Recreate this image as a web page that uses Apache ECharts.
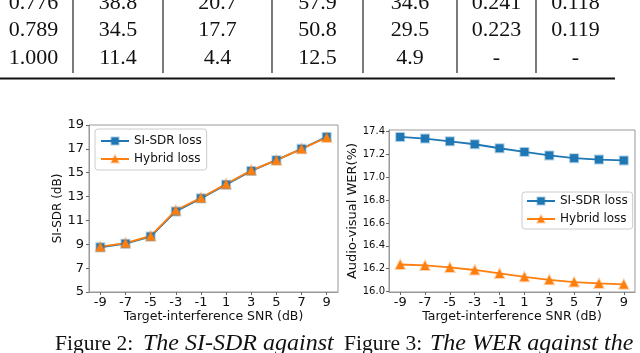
<!DOCTYPE html>
<html>
<head>
<meta charset="utf-8">
<script src="https://cdn.jsdelivr.net/npm/echarts@6/dist/echarts.min.js"></script>
<style>
  html, body { margin: 0; padding: 0; background: #fff; }
  #chart { width: 640px; height: 353px; }
</style>
</head>
<body>
<div id="chart"></div>
<script>
// x 轴：目标干扰信噪比
const snr = [-9, -7, -5, -3, -1, 1, 3, 5, 7, 9]
// Figure 2: SI-SDR (dB)
const sdrSiSdrLoss = [8.75, 9.05, 9.65, 11.75, 12.85, 14.0, 15.15, 16.05, 17.0, 18.0]
const sdrHybridLoss = [8.8, 9.1, 9.7, 11.85, 12.9, 14.05, 15.2, 16.05, 17.0, 17.95]
// Figure 3: Audio-visual WER (%)
const werSiSdrLoss = [17.354, 17.34, 17.316, 17.29, 17.255, 17.223, 17.192, 17.168, 17.156, 17.148]
const werHybridLoss = [16.236, 16.228, 16.21, 16.188, 16.158, 16.128, 16.102, 16.082, 16.07, 16.062]
const sdrTicks = [5, 7, 9, 11, 13, 15, 17, 19]
const werTicks = [16.0, 16.2, 16.4, 16.6, 16.8, 17.0, 17.2, 17.4]
// 上方表格（裁剪后剩下的三行）
const tableRows = [
  ['0.776', '38.8', '20.7', '57.9', '34.6', '0.241', '0.118'],
  ['0.789', '34.5', '17.7', '50.8', '29.5', '0.223', '0.119'],
  ['1.000', '11.4', '4.4', '12.5', '4.9', '-', '-']
]

const blue = '#1f77b4'
const orange = '#ff7f0e'
const font = 'DejaVu Sans'

const pairs = (ys) => snr.map((x, i) => [x, ys[i]])

// table / caption drawn as plain graphic elements
const colX = [33.5, 118, 217.5, 317.5, 410, 496.5, 575.5]
const rowY = [3, 30.5, 58]
const sepX = [73, 163, 272, 363, 457, 536]
const graphics = []
tableRows.forEach((row, r) => {
  row.forEach((txt, c) => {
    graphics.push({
      type: 'text',
      style: {
        text: txt, x: colX[c], y: rowY[r],
        font: '22px "Liberation Serif"', fill: '#111',
        textAlign: 'center', textVerticalAlign: 'middle'
      }
    })
  })
})
sepX.forEach(x => {
  graphics.push({ type: 'line', shape: { x1: x, y1: 0, x2: x, y2: 73 }, style: { stroke: '#222', lineWidth: 1.2 } })
})
graphics.push({ type: 'line', shape: { x1: 0, y1: 78.5, x2: 615, y2: 78.5 }, style: { stroke: '#111', lineWidth: 2 } })

// caption pieces
const caption = [
  { text: 'Figure 2:', x: 55, italic: false },
  { text: 'The SI-SDR against', x: 143, italic: true },
  { text: 'Figure 3:', x: 344, italic: false },
  { text: 'The WER against the', x: 430, italic: true }
]
caption.forEach(c => {
  graphics.push({
    type: 'text',
    style: {
      text: c.text, x: c.x, y: 344,
      font: (c.italic ? 'italic 24px' : '21.5px') + ' "Liberation Serif"', fill: '#111',
      textAlign: 'left', textVerticalAlign: 'middle'
    }
  })
})

const xAxisCommon = (gridIndex) => ({
  type: 'value',
  gridIndex: gridIndex,
  min: -9.9,
  max: 9.9,
  name: 'Target-interference SNR (dB)',
  nameLocation: 'middle',
  nameGap: 16,
  nameTextStyle: { fontFamily: font, fontSize: 12.5, color: '#111' },
  axisLine: { show: true, onZero: false, lineStyle: { color: '#999' } },
  axisTick: { show: true, length: 3, customValues: snr, lineStyle: { color: '#666' } },
  axisLabel: { fontFamily: font, fontSize: 13, color: '#111', margin: 4, customValues: snr, formatter: v => String(v) },
  splitLine: { show: false }
})

const lineSeries = (name, xi, data, color, symbol, halo) => ({
  name: name,
  type: 'line',
  xAxisIndex: xi,
  yAxisIndex: xi,
  data: data,
  symbol: symbol,
  symbolSize: symbol === 'rect' ? 8 : 9,
  lineStyle: { color: color, width: 1.8 },
  itemStyle: { color: color, borderColor: halo, borderWidth: 2 },
  emphasis: { disabled: true },
  animation: false
})

const legendCommon = {
  orient: 'vertical',
  itemWidth: 28,
  itemHeight: 9,
  itemGap: 4,
  textStyle: { fontFamily: font, fontSize: 12, color: '#111', lineHeight: 14 },
  backgroundColor: 'rgba(255,255,255,0.85)',
  borderColor: '#ccc',
  borderWidth: 1,
  borderRadius: 3,
  data: ['SI-SDR loss', 'Hybrid loss']
}

const chart = echarts.init(document.getElementById('chart'))
chart.setOption({
  animation: false,
  graphic: graphics,
  legend: [
    Object.assign({ left: 95, top: 129, padding: [5, 5, 4, 5] }, legendCommon),
    Object.assign({ left: 522, top: 192, padding: [2, 5, 3, 4] }, legendCommon)
  ],
  grid: [
    { left: 89, right: 302, top: 125, bottom: 61, show: true, borderColor: '#999', borderWidth: 1, backgroundColor: 'transparent' },
    { left: 389, right: 5, top: 130, bottom: 61, show: true, borderColor: '#999', borderWidth: 1, backgroundColor: 'transparent' }
  ],
  xAxis: [xAxisCommon(0), xAxisCommon(1)],
  yAxis: [{
    type: 'value',
    gridIndex: 0,
    min: 5,
    max: 19,
    name: 'SI-SDR (dB)',
    nameLocation: 'middle',
    nameGap: 21,
    nameTextStyle: { fontFamily: font, fontSize: 12, color: '#111' },
    axisLine: { show: true, onZero: false, lineStyle: { color: '#999' } },
    axisTick: { show: true, length: 3, customValues: sdrTicks, lineStyle: { color: '#666' } },
    axisLabel: { fontFamily: font, fontSize: 13, color: '#111', margin: 5, customValues: sdrTicks },
    splitLine: { show: false }
  }, {
    type: 'value',
    gridIndex: 1,
    min: 15.995,
    max: 17.415,
    name: 'Audio-visual WER(%)',
    nameLocation: 'middle',
    nameGap: 26,
    nameTextStyle: { fontFamily: font, fontSize: 13, color: '#111' },
    axisLine: { show: true, onZero: false, lineStyle: { color: '#999' } },
    axisTick: { show: true, length: 3, customValues: werTicks, lineStyle: { color: '#666' } },
    axisLabel: { fontFamily: font, fontSize: 10, color: '#111', margin: 4, customValues: werTicks, formatter: v => v.toFixed(1) },
    splitLine: { show: false }
  }],
  series: [
    lineSeries('SI-SDR loss', 0, pairs(sdrSiSdrLoss), blue, 'rect', 'rgba(31,119,180,0.35)'),
    lineSeries('Hybrid loss', 0, pairs(sdrHybridLoss), orange, 'triangle', 'rgba(255,127,14,0.35)'),
    lineSeries('SI-SDR loss', 1, pairs(werSiSdrLoss), blue, 'rect', 'rgba(31,119,180,0.35)'),
    lineSeries('Hybrid loss', 1, pairs(werHybridLoss), orange, 'triangle', 'rgba(255,127,14,0.35)')
  ]
})
</script>
</body>
</html>
